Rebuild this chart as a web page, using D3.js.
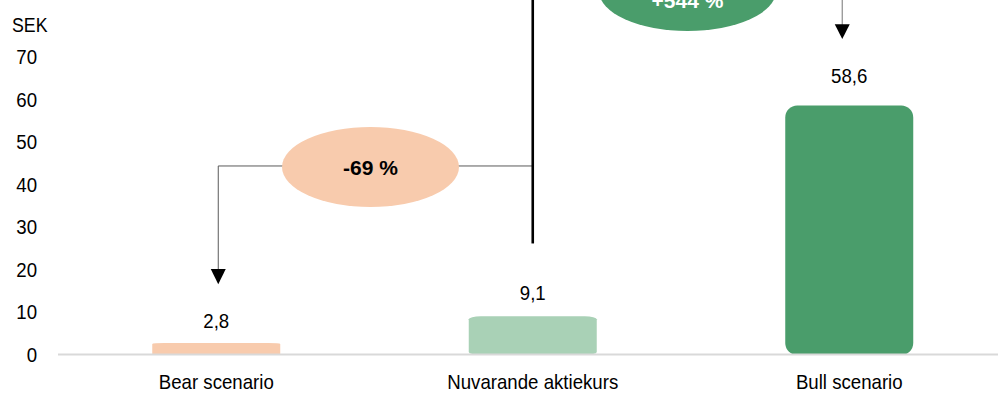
<!DOCTYPE html>
<html>
<head>
<meta charset="utf-8">
<script src="https://cdn.jsdelivr.net/npm/d3@7/dist/d3.min.js"></script>
<style>
  html, body { margin: 0; padding: 0; background: #fff; }
  svg { display: block; }
  text { font-family: "Liberation Sans", Arial, sans-serif; fill: #000; }
</style>
</head>
<body>
<svg id="chart" width="998" height="393"></svg>
<script>
// ---- data ----
const categories = ["Bear scenario", "Nuvarande aktiekurs", "Bull scenario"];
const values = [2.8, 9.1, 58.6];
const valueLabels = ["2,8", "9,1", "58,6"];
const barColors = ["#F8CBAD", "#A9D1B6", "#4A9D6B"];
const yTicks = [0, 10, 20, 30, 40, 50, 60, 70];
const unitLabel = "SEK";
const changeLabels = ["-69 %", "+544 %"];

// ---- layout ----
const W = 998, H = 393;
const SX = 0.91; // horizontal condensing of the narrow label font
const svg = d3.select("#chart");

const y = d3.scaleLinear().domain([0, 70]).range([355, 57]);
const x = d3.scaleBand().domain(categories).range([58, 1007.5])
  .paddingInner(0.5956).paddingOuter(0.2978);
const cx = c => x(c) + x.bandwidth() / 2;

// y axis labels
const yAxis = d3.axisLeft(y).tickValues(yTicks).tickSize(0).tickPadding(0).tickFormat(d3.format("d"));
const gy = svg.append("g").attr("transform", "translate(37,0)").call(yAxis);
gy.select(".domain").remove();
gy.selectAll("text")
  .attr("x", 0)
  .attr("transform", `scale(${SX},1)`)
  .attr("fill", "#000")
  .style("font-size", "20.5px")
  .style("font-family", '"Liberation Sans", Arial, sans-serif');

svg.append("text")
  .attr("transform", `translate(12,32) scale(${SX},1)`)
  .style("font-size", "19.5px").text(unitLabel);

// bars
svg.selectAll("rect.bar").data(values).join("rect")
  .attr("class", "bar")
  .attr("x", (d, i) => x(categories[i]))
  .attr("y", d => y(d))
  .attr("width", x.bandwidth())
  .attr("height", d => y(0) - y(d))
  .attr("rx", 12)
  .attr("ry", d => Math.min(12, (y(0) - y(d)) * 0.08))
  .attr("fill", (d, i) => barColors[i]);

// baseline
svg.append("line").attr("x1", 58).attr("x2", W).attr("y1", y(0) - 0.5).attr("y2", y(0) - 0.5)
  .attr("stroke", "#D9D9D9").attr("stroke-width", 2);

// value labels
svg.selectAll("text.val").data(values).join("text")
  .attr("class", "val")
  .attr("transform", (d, i) => {
    const h = y(0) - y(d);
    return `translate(${cx(categories[i])},${y(d) - 15 - 0.032 * h}) scale(${SX},1)`;
  })
  .attr("text-anchor", "middle")
  .style("font-size", "20.5px")
  .text((d, i) => valueLabels[i]);

// category labels
svg.selectAll("text.cat").data(categories).join("text")
  .attr("class", "cat")
  .attr("transform", d => `translate(${cx(d)},389) scale(${SX},1)`)
  .attr("text-anchor", "middle")
  .style("font-size", "20.5px")
  .text(d => d);

// ---- annotations ----
const xBear = cx(categories[0]) + 2;
const xNow = cx(categories[1]);
const xBull = cx(categories[2]) - 7;
const yLow = y(44.4);
const yHigh = y(85.5);

// left connector
svg.append("path")
  .attr("d", `M${xNow},${yLow}H${xBear}V${y(18)}`)
  .attr("fill", "none").attr("stroke", "#595959").attr("stroke-width", 1);
svg.append("path")
  .attr("d", `M${xBear - 7.5},${y(20.2)}H${xBear + 7.5}L${xBear},${y(16.6)}Z`)
  .attr("fill", "#000");

// right connector
svg.append("path")
  .attr("d", `M${xNow},${yHigh}H${xBull}V${y(76)}`)
  .attr("fill", "none").attr("stroke", "#8C8C8C").attr("stroke-width", 1.2);
svg.append("path")
  .attr("d", `M${xBull - 7.5},${y(77.7)}H${xBull + 7.5}L${xBull},${y(74.2)}Z`)
  .attr("fill", "#000");

// thick vertical line
svg.append("line")
  .attr("x1", xNow).attr("x2", xNow)
  .attr("y1", yHigh).attr("y2", y(26.2))
  .attr("stroke", "#000").attr("stroke-width", 2.6);

// ellipses
const ell = [
  { cx: (xBear + xNow) / 2 - 5, cy: yLow + 1, fill: "#F8CBAD", tc: "#000", label: changeLabels[0], dy: 8 },
  { cx: (xNow + xBull) / 2, cy: yHigh, fill: "#4A9D6B", tc: "#fff", label: changeLabels[1], dy: 17 }
];
svg.selectAll("ellipse.chg").data(ell).join("ellipse")
  .attr("class", "chg")
  .attr("cx", d => d.cx).attr("cy", d => d.cy)
  .attr("rx", 88.5).attr("ry", 40)
  .attr("fill", d => d.fill);
svg.selectAll("text.chg").data(ell).join("text")
  .attr("class", "chg")
  .attr("x", d => d.cx).attr("y", d => d.cy + d.dy)
  .attr("text-anchor", "middle")
  .style("font-size", "21px").style("font-weight", "bold")
  .style("fill", d => d.tc)
  .text(d => d.label);
</script>
</body>
</html>
